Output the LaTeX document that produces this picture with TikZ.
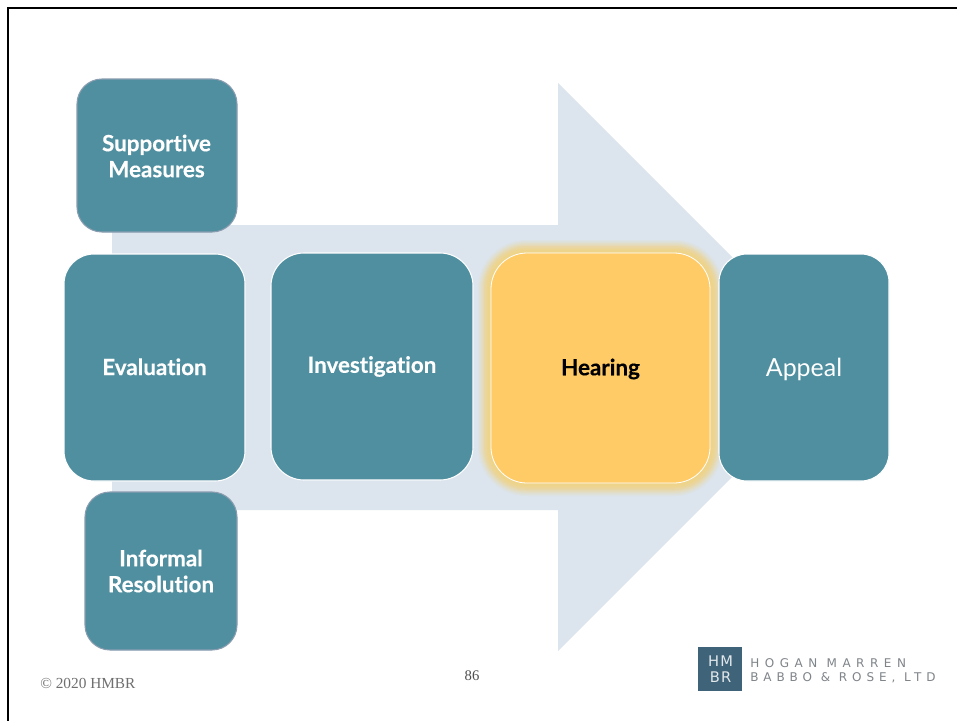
\documentclass[tikz,border=0pt]{standalone}
\usepackage{fontspec}
\setmainfont[Ligatures=CommonOff,BoldFeatures={FakeBold=0.35}]{Lato}
\newfontfamily\serifface{Liberation Serif}
\newfontfamily\logoface[LetterSpace=46]{DejaVu Sans}
\newfontfamily\logofacetwo[LetterSpace=41]{DejaVu Sans}
\newfontfamily\logomark[LetterSpace=8]{DejaVu Sans}
\newcommand{\nudge}[2]{\raisebox{#1}[\height][\depth]{#2}}
\definecolor{teal}{HTML}{4F8F9F}
\definecolor{arrowbg}{HTML}{DCE4ED}
\definecolor{amber}{HTML}{FFCB66}
\definecolor{glow}{HTML}{EFD48A}
\definecolor{logoblue}{HTML}{3F6379}
\definecolor{logogray}{HTML}{7F8489}
\definecolor{footgray}{HTML}{6F6F6F}
\definecolor{softedge}{HTML}{8A9DB0}
\tikzset{
  pxbox/.style n args={4}{draw=#4, line width=0.8pt, fill=teal, rounded corners=#3*0.75pt,
    minimum width=#1*0.75pt, minimum height=#2*0.75pt, inner sep=0pt, align=center, text=white,
    font=\fontsize{16.8pt}{19.5pt}\selectfont\bfseries},
  boxlabel/.style={font=\fontsize{16.8pt}{19.5pt}\selectfont\bfseries,text=white,align=center,inner sep=0pt},
}
\begin{document}
\begin{tikzpicture}[x=0.75pt,y=-0.75pt]
\useasboundingbox (0,0) rectangle (957,721);
\fill[white] (0,0) rectangle (957,721);
\draw[black,line width=1.9pt] (8,721) -- (8,8) -- (957,8);
% big arrow
\fill[arrowbg] (112,225) -- (558,225) -- (558,83) -- (842,367) -- (558,651) -- (558,510) -- (112,510) -- cycle;
% glow round the hearing box
\foreach \w/\o in {26/0.10,23/0.14,20/0.2,17/0.28,14/0.36,11/0.45,8/0.6,5/0.7}{
  \draw[glow,opacity=\o,line width=\w*0.75pt,rounded corners=36*0.75pt] (491,253) rectangle (710,483);
}
% boxes
\node[pxbox={160}{153}{25}{softedge}] (supportive) at (157,155.5) {};
\node[boxlabel] (supportivetext) at (156.5,156) {Supportive\\Measures};
\node[pxbox={181}{227}{30}{white}] (evaluation) at (154.5,367.5) {\nudge{0.5pt}{Evaluation}};
\node[pxbox={202}{227}{33}{white}] (investigation) at (372,366.5) {Investigation};
\node[pxbox={219}{230}{36}{white},fill=amber,text=black,line width=0.6pt] (hearing) at (600.5,368) {\nudge{-0.75pt}{Hearing}};
\node[pxbox={170}{227}{28}{white},font=\fontsize{18.7pt}{23pt}\selectfont] (appeal) at (804,367.5) {\nudge{-1.5pt}{Appeal}};
\node[pxbox={152}{158}{25}{softedge}] (informal) at (161,571) {};
\node[boxlabel] (informaltext) at (161,571) {Informal\\Resolution};
% footer
\node[anchor=west,inner sep=0pt,text=footgray,font=\serifface\fontsize{11.5pt}{13pt}\selectfont] (copyright) at (40,683) {© 2020 HMBR};
\node[inner sep=0pt,text=footgray!70!black,font=\serifface\fontsize{11pt}{13pt}\selectfont] (pagenum) at (472,676) {86};
% logo
\node[fill=logoblue,minimum size=33pt,inner sep=0pt] (logomarkbox) at (720,669) {};
\node[inner sep=0pt,text=white!85!logoblue,align=center,font=\logomark\fontsize{11pt}{11.5pt}\selectfont] (logomarktext) at (720.5,669) {HM\\BR};
\node[anchor=west,inner sep=0pt,text=logogray,font=\logoface\fontsize{9pt}{10pt}\selectfont] (logoline1) at (750,663.5) {HOGAN MARREN};
\node[anchor=west,inner sep=0pt,text=logogray,font=\logofacetwo\fontsize{9pt}{10pt}\selectfont] (logoline2) at (750,677.5) {BABBO \& ROSE, LTD};
\end{tikzpicture}
\end{document}
